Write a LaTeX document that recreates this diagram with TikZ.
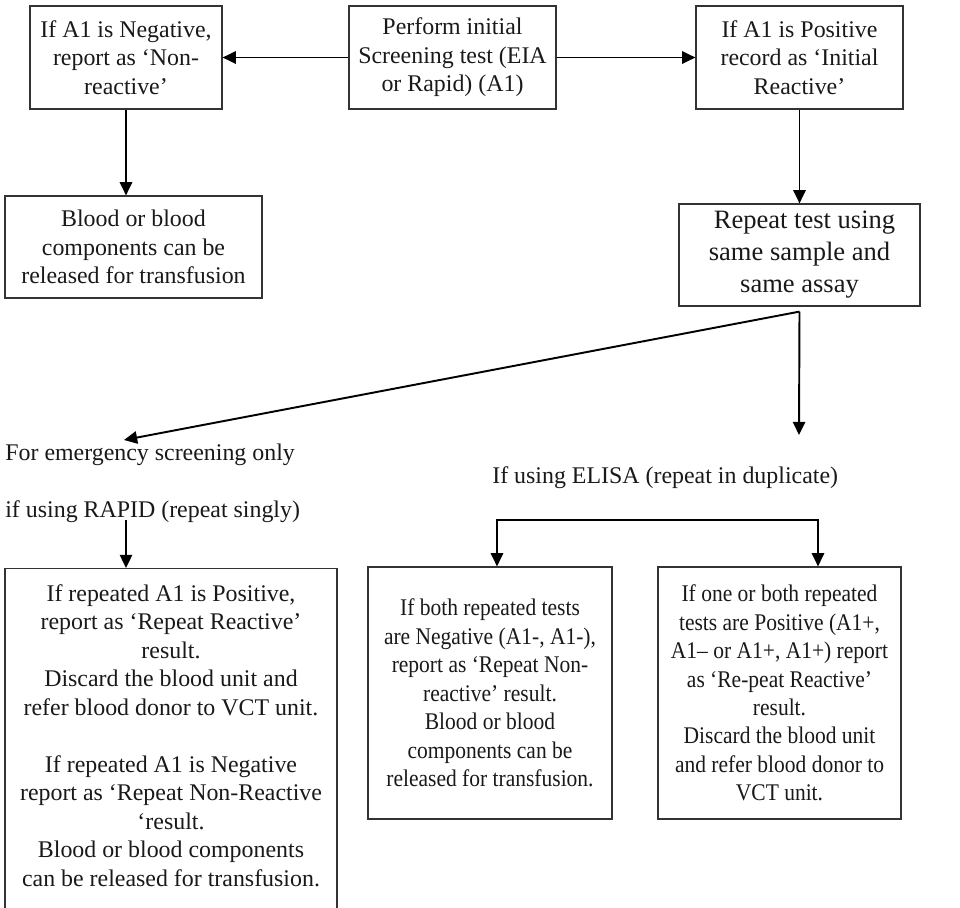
\documentclass[tikz,border=0pt]{standalone}
\usepackage{fontspec}
\setmainfont{Liberation Serif}
\newfontfamily\narrowserif[FakeStretch=0.9]{Liberation Serif}
\usetikzlibrary{arrows.meta}

\begin{document}
\begin{tikzpicture}[x=0.02cm, y=-0.02cm,
    box/.style={draw=black!80, line width=0.7pt, align=center, inner sep=0pt,
      text=black!90, font=\fontsize{13.6}{16.2}\selectfont},
    narrowbox/.style={box, font=\narrowserif\fontsize{13.6}{16.2}\selectfont},
    lbl/.style={anchor=west, inner sep=0pt, text=black!90,
      font=\fontsize{13.6}{16.2}\selectfont},
    arr/.style={-{Triangle[length=7.5pt,width=7pt]}, line width=1.1pt},
    arrboth/.style={{Triangle[length=7.5pt,width=7pt]}-{Triangle[length=7.5pt,width=7pt]},
      line width=1.1pt}]
    \useasboundingbox (0,0) rectangle (960,907);

    % Top row
    \node[box, minimum width=3.84cm, minimum height=2.06cm] (neg) at (126,57.5)
      {If A1 is Negative,\\report as ‘Non-\\reactive’};
    \node[box, minimum width=4.14cm, minimum height=2.06cm] (perform) at (452.5,57.5)
      {Perform initial\\Screening test (EIA\\or Rapid) (A1)};
    \node[box, minimum width=4.14cm, minimum height=2.06cm] (pos) at (799.5,57.5)
      {If A1 is Positive\\record as ‘Initial\\Reactive’};

    % Second row
    \node[box, minimum width=5.14cm, minimum height=2.04cm] (release) at (133.5,247)
      {Blood or blood\\components can be\\released for transfusion};
    \node[box, minimum width=4.82cm, minimum height=2.04cm,
      font=\fontsize{15.1}{18.2}\selectfont] (repeat) at (799.5,255)
      {\hspace{0.2cm}Repeat test using\\same sample and\\same assay};

    % Branch labels
    \node[lbl] (emerg) at (5,455) {For emergency screening only};
    \node[lbl] (rapidlbl) at (5,512) {if using RAPID (repeat singly)};
    \node[lbl] (elisa) at (492,478) {If using ELISA (repeat in duplicate)};

    % Result boxes
    \node[box, minimum width=6.64cm, anchor=north, inner ysep=0.32cm] (rapid) at (171,568)
      {If repeated A1 is Positive,\\report as ‘Repeat Reactive’\\result.\\
       Discard the blood unit and\\refer blood donor to VCT unit.\\[16.2pt]
       If repeated A1 is Negative\\report as ‘Repeat Non-Reactive\\‘result.\\
       Blood or blood components\\can be released for transfusion.\\[1cm]\strut};
    \node[narrowbox, minimum width=4.88cm, minimum height=5.04cm] (bothneg) at (490,693)
      {If both repeated tests\\are Negative (A1-, A1-),\\report as ‘Repeat Non-\\reactive’ result.\\
       Blood or blood\\components can be\\released for transfusion.};
    \node[narrowbox, minimum width=4.86cm, minimum height=5.04cm] (onepos) at (779.5,693)
      {If one or both repeated\\tests are Positive (A1+,\\A1– or A1+, A1+) report\\as ‘Re-peat Reactive’\\result.\\
       Discard the blood unit\\and refer blood donor to\\VCT unit.};

    % Connector points
    \coordinate (split) at ([yshift=-0.1cm]repeat.south);
    \coordinate (emergtip) at (124,440);
    \coordinate (elisatip) at (799,435);
    \coordinate (rapidtop) at (126,520);
    \coordinate (elisaL) at (497,520);
    \coordinate (elisaR) at (818,520);

    % Arrows
    \draw[arr] (perform) -- (neg);
    \draw[arr] (perform) -- (pos);
    \draw[arr] (neg.south) -- (neg.south |- release.north);
    \draw[arr] (pos) -- (repeat);
    \draw[arr] (split) -- (emergtip);
    \draw[arr] (split) -- (elisatip);
    \draw[arr] (rapidtop) -- (rapidtop |- rapid.north);
    \draw[arrboth] (elisaL |- bothneg.north) -- (elisaL) -- (elisaR) -- (elisaR |- onepos.north);
  \end{tikzpicture}
\end{document}
